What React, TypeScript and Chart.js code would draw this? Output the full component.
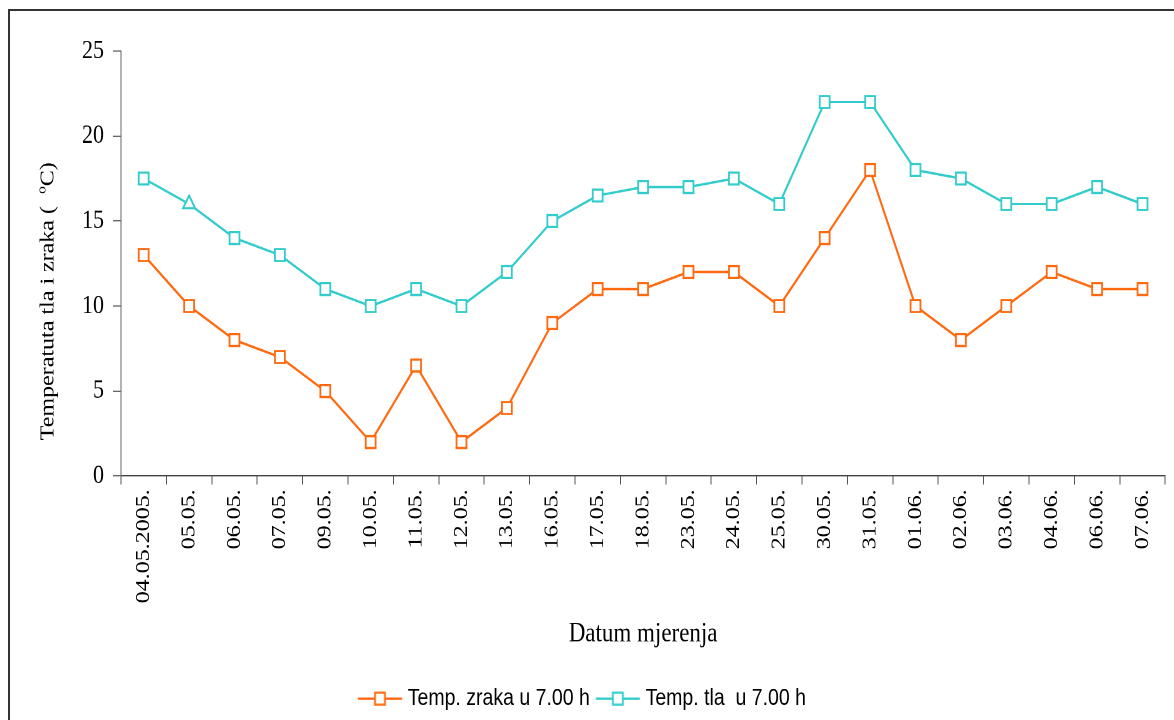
import React, { useEffect, useRef } from "react";
import { Chart, registerables } from "chart.js";

Chart.register(...registerables);

const categories = [
  "04.05.2005.", "05.05.", "06.05.", "07.05.", "09.05.", "10.05.", "11.05.", "12.05.",
  "13.05.", "16.05.", "17.05.", "18.05.", "23.05.", "24.05.", "25.05.", "30.05.",
  "31.05.", "01.06.", "02.06.", "03.06.", "04.06.", "06.06.", "07.06.",
];
const airTemp = [13, 10, 8, 7, 5, 2, 6.5, 2, 4, 9, 11, 11, 12, 12, 10, 14, 18, 10, 8, 10, 12, 11, 11];
const soilTemp = [17.5, 16, 14, 13, 11, 10, 11, 10, 12, 15, 16.5, 17, 17, 17.5, 16, 22, 22, 18, 17.5, 16, 16, 17, 16];
const soilPointStyles = [
  "rect", "triangle", "rect", "rect", "rect", "rect", "rect", "rect", "rect", "rect", "rect", "rect",
  "rect", "rect", "rect", "rect", "rect", "rect", "rect", "rect", "rect", "rect", "rect",
];
const seriesLabels = ["Temp. zraka u 7.00 h", "Temp. tla  u 7.00 h"];
const xTitle = "Datum mjerenja";
const yTitleMain = "Temperatuta tla i zraka (  ";
const yTitleSup = "o";
const yTitleEnd = "C)";

const ORANGE = "#FF6A10";
const CYAN = "#33CCCC";
const W = 1174;
const H = 600; // internal height, stretched to 720 on screen
const STRETCH = 1.2;
const PLOT_BOTTOM = 396.7;
const PAD_BOTTOM = -2;

function legendMarker(color: string) {
  const c = document.createElement("canvas");
  c.width = 46;
  c.height = 14;
  const ctx = c.getContext("2d")!;
  ctx.strokeStyle = color;
  ctx.lineWidth = 2;
  ctx.beginPath();
  ctx.moveTo(1, 7);
  ctx.lineTo(45, 7);
  ctx.stroke();
  ctx.fillStyle = "#fff";
  ctx.fillRect(18, 2, 10, 10);
  ctx.lineWidth = 1.8;
  ctx.strokeRect(18, 2, 10, 10);
  return c;
}

const yTitlePlugin = {
  id: "yTitlePlugin",
  afterDraw(chart: any) {
    const ctx = chart.ctx as CanvasRenderingContext2D;
    const big = "20px 'Liberation Serif'";
    const small = "13px 'Liberation Serif'";
    ctx.save();
    ctx.translate(48, 251);
    ctx.rotate(-Math.PI / 2);
    ctx.fillStyle = "#000";
    ctx.textBaseline = "middle";
    ctx.textAlign = "left";
    ctx.font = big;
    const w1 = ctx.measureText(yTitleMain).width;
    const w3 = ctx.measureText(yTitleEnd).width;
    ctx.font = small;
    const w2 = ctx.measureText(yTitleSup).width;
    let x = -(w1 + w2 + w3) / 2;
    ctx.font = big;
    ctx.fillText(yTitleMain, x, 0);
    x += w1;
    ctx.font = small;
    ctx.fillText(yTitleSup, x, -6);
    x += w2;
    ctx.font = big;
    ctx.fillText(yTitleEnd, x, 0);
    ctx.restore();
  },
};

export default function App() {
  const ref = useRef<HTMLCanvasElement | null>(null);

  useEffect(() => {
    if (!ref.current) return;
    const markers = [legendMarker(ORANGE), legendMarker(CYAN)];
    const chart = new Chart(ref.current, {
      type: "line",
      data: {
        labels: categories,
        datasets: [
          {
            label: seriesLabels[0],
            data: airTemp,
            borderColor: ORANGE,
            backgroundColor: "#fff",
            borderWidth: 2,
            pointStyle: "rect",
            pointRadius: 7,
            pointBorderWidth: 1.8,
            pointBackgroundColor: "#fff",
            pointBorderColor: ORANGE,
            tension: 0,
          },
          {
            label: seriesLabels[1],
            data: soilTemp,
            borderColor: CYAN,
            backgroundColor: "#fff",
            borderWidth: 2,
            pointStyle: soilPointStyles as any,
            pointRadius: 7,
            pointBorderWidth: 1.8,
            pointBackgroundColor: "#fff",
            pointBorderColor: CYAN,
            tension: 0,
          },
        ],
      },
      options: {
        animation: false,
        responsive: false,
        devicePixelRatio: 2,
        layout: { padding: { top: 42.5, right: 6, bottom: PAD_BOTTOM, left: 0 } },
        plugins: {
          tooltip: { enabled: false },
          legend: {
            display: true,
            position: "bottom",
            labels: {
              usePointStyle: true,
              pointStyleWidth: 36,
              padding: 10,
              color: "#000",
              font: { family: "'Liberation Sans', Arial", size: 19.5 },
              generateLabels: (c: any) =>
                c.data.datasets.map((ds: any, i: number) => ({
                  text: ds.label,
                  pointStyle: markers[i],
                  fillStyle: "#fff",
                  strokeStyle: ds.borderColor,
                  lineWidth: 0,
                  hidden: false,
                  datasetIndex: i,
                  fontColor: "#000",
                })),
            },
          },
        },
        scales: {
          x: {
            type: "category",
            offset: true,
            afterFit: (s: any) => {
              const lh = s.chart.legend ? s.chart.legend.height : 0;
              s.height = s.chart.height - PAD_BOTTOM - PLOT_BOTTOM - lh;
            },
            grid: {
              offset: true,
              drawOnChartArea: false,
              drawTicks: true,
              tickLength: 7,
              color: "#555",
            },
            border: { display: true, color: "#444", width: 1 },
            ticks: {
              autoSkip: false,
              minRotation: 90,
              maxRotation: 90,
              padding: 4,
              color: "#000",
              font: { family: "'Liberation Serif', 'Times New Roman'", size: 20 },
            },
            title: {
              display: true,
              text: xTitle,
              color: "#000",
              font: { family: "'Liberation Serif', 'Times New Roman'", size: 23 },
              padding: { top: 0, bottom: 20 },
            },
          },
          y: {
            min: 0,
            max: 25,
            afterFit: (s: any) => {
              s.width = 121;
            },
            grid: {
              drawOnChartArea: false,
              drawTicks: true,
              tickLength: 8,
              color: "#666",
            },
            border: { display: true, color: "#666", width: 1 },
            ticks: {
              stepSize: 5,
              padding: 9,
              color: "#000",
              font: { family: "'Liberation Serif', 'Times New Roman'", size: 22 },
            },
            title: { display: false },
          },
        },
      },
      plugins: [yTitlePlugin],
    } as any);
    return () => chart.destroy();
  }, []);

  return (
    <div
      style={{
        position: "fixed",
        left: 0,
        top: 0,
        width: W,
        height: 720,
        overflow: "hidden",
        background: "#fff",
      }}
    >
      <div
        style={{
          position: "absolute",
          left: 8,
          top: 9,
          width: 1300,
          height: 900,
          border: "2px solid #333",
        }}
      />
      <canvas
        ref={ref}
        width={W}
        height={H}
        style={{
          position: "absolute",
          left: 0,
          top: 0,
          width: W,
          height: H,
          transform: `scaleY(${STRETCH})`,
          transformOrigin: "0 0",
        }}
      />
    </div>
  );
}
